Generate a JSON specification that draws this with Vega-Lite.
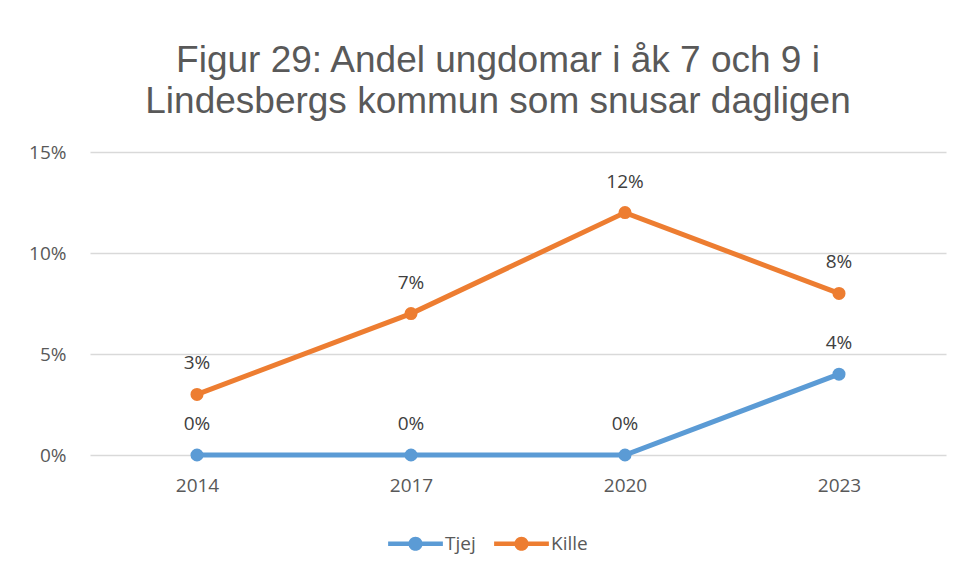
{
  "$schema": "https://vega.github.io/schema/vega-lite/v6.json",
  "autosize": "none",
  "width": 856,
  "height": 303,
  "padding": {"left": 90, "top": 152, "right": 17, "bottom": 116},
  "background": "white",
  "config": {"view": {"stroke": null}},
  "title": {
    "text": ["Figur 29: Andel ungdomar i åk 7 och 9 i", "Lindesbergs kommun som snusar dagligen"],
    "font": "Liberation Sans",
    "fontSize": 37,
    "fontWeight": "normal",
    "color": "#595959",
    "lineHeight": 41,
    "anchor": "middle",
    "dx": -20,
    "offset": 22
  },
  "data": {
    "values": [
      {"year": "2014", "kon": "Tjej", "andel": 0.0},
      {"year": "2017", "kon": "Tjej", "andel": 0.0},
      {"year": "2020", "kon": "Tjej", "andel": 0.0},
      {"year": "2023", "kon": "Tjej", "andel": 0.04},
      {"year": "2014", "kon": "Kille", "andel": 0.03},
      {"year": "2017", "kon": "Kille", "andel": 0.07},
      {"year": "2020", "kon": "Kille", "andel": 0.12},
      {"year": "2023", "kon": "Kille", "andel": 0.08}
    ]
  },
  "encoding": {
    "x": {
      "field": "year", "type": "ordinal",
      "scale": {"type": "point", "padding": 0.5},
      "axis": {"title": null, "labelAngle": 0, "domain": false, "ticks": false, "grid": false,
        "labelFont": "Open Sans", "labelFontSize": 19, "labelColor": "#595959", "labelPadding": 21}
    },
    "y": {
      "field": "andel", "type": "quantitative",
      "scale": {"domain": [0, 0.15], "nice": false},
      "axis": {"title": null, "values": [0, 0.05, 0.1, 0.15], "format": ".0%", "domain": false, "ticks": false,
        "grid": true, "gridColor": "#D9D9D9", "gridWidth": 1.5,
        "labelFont": "Open Sans", "labelFontSize": 19, "labelColor": "#595959", "labelPadding": 24}
    },
    "color": {
      "field": "kon", "type": "nominal",
      "scale": {"domain": ["Tjej", "Kille"], "range": ["#5B9BD5", "#ED7D31"]},
      "legend": {
        "title": null, "orient": "none", "direction": "horizontal",
        "legendX": 298, "legendY": 364,
        "labelFont": "Open Sans", "labelFontSize": 19, "labelColor": "#595959",
        "symbolType": "M-1,-0.08H1V0.08H-1Z M0.26,0A0.26,0.26,0,1,1,-0.26,0A0.26,0.26,0,1,1,0.26,0Z",
        "symbolSize": 3000,
        "symbolStrokeWidth": 0,
        "labelOffset": 2,
        "columnPadding": 18,
        "encode": {"symbols": {"update": {"fill": {"scale": "color", "field": "value"}, "fillOpacity": {"value": 1}}}}
      }
    }
  },
  "layer": [
    {"mark": {"type": "line", "strokeWidth": 5, "strokeCap": "round"}},
    {"mark": {"type": "point", "filled": true, "size": 170, "opacity": 1}},
    {
      "mark": {"type": "text", "dy": -31, "font": "Open Sans", "fontSize": 19},
      "encoding": {"text": {"field": "andel", "type": "quantitative", "format": ".0%"}, "color": {"value": "#404040"}}
    }
  ]
}
